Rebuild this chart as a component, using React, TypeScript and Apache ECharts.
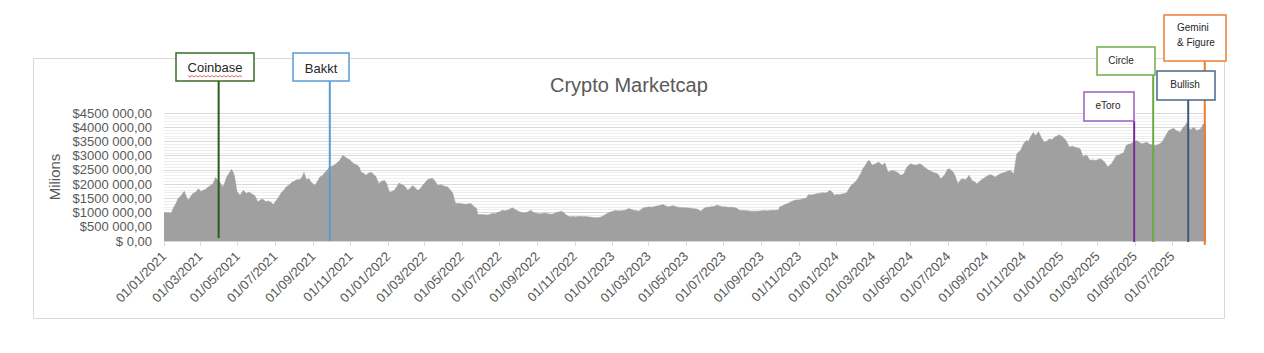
import React, { useEffect, useRef } from 'react';
import * as echarts from 'echarts';

const TITLE = 'Crypto Marketcap';
const Y_NAME = 'Milions';

// [date, market cap in millions USD]
const marketCap: [string, number][] = [
  ['2021-01-01', 1000000], ['2021-01-08', 990000], ['2021-01-13', 980000], ['2021-01-16', 1150000],
  ['2021-01-20', 1300000], ['2021-01-24', 1490000], ['2021-01-29', 1600000], ['2021-02-03', 1750000],
  ['2021-02-09', 1430000], ['2021-02-13', 1550000], ['2021-02-17', 1670000], ['2021-02-22', 1720000],
  ['2021-02-26', 1840000], ['2021-03-02', 1740000], ['2021-03-06', 1780000], ['2021-03-10', 1820000],
  ['2021-03-14', 1900000], ['2021-03-18', 1950000], ['2021-03-22', 2020000], ['2021-03-26', 2230000],
  ['2021-03-29', 2150000], ['2021-04-02', 2060000], ['2021-04-07', 1900000], ['2021-04-10', 2050000],
  ['2021-04-13', 2250000], ['2021-04-17', 2380000], ['2021-04-21', 2520000], ['2021-04-24', 2400000],
  ['2021-04-26', 2250000], ['2021-04-30', 1730000], ['2021-05-05', 1610000], ['2021-05-10', 1780000],
  ['2021-05-15', 1670000], ['2021-05-19', 1720000], ['2021-05-23', 1670000], ['2021-05-29', 1590000],
  ['2021-06-03', 1370000], ['2021-06-07', 1450000], ['2021-06-11', 1470000], ['2021-06-16', 1380000],
  ['2021-06-20', 1410000], ['2021-06-24', 1360000], ['2021-06-28', 1280000], ['2021-07-03', 1430000],
  ['2021-07-07', 1550000], ['2021-07-11', 1700000], ['2021-07-15', 1780000], ['2021-07-19', 1900000],
  ['2021-07-23', 1960000], ['2021-07-28', 2060000], ['2021-08-01', 2100000], ['2021-08-05', 2150000],
  ['2021-08-10', 2150000], ['2021-08-14', 2250000], ['2021-08-17', 2410000], ['2021-08-21', 2150000],
  ['2021-08-25', 2200000], ['2021-08-29', 2060000], ['2021-09-04', 1960000], ['2021-09-08', 2100000],
  ['2021-09-12', 2250000], ['2021-09-16', 2300000], ['2021-09-20', 2410000], ['2021-09-24', 2500000],
  ['2021-09-28', 2600000], ['2021-10-02', 2630000], ['2021-10-06', 2680000], ['2021-10-10', 2750000],
  ['2021-10-14', 2830000], ['2021-10-19', 3010000], ['2021-10-23', 2950000], ['2021-10-27', 2890000],
  ['2021-10-31', 2850000], ['2021-11-04', 2750000], ['2021-11-08', 2700000], ['2021-11-12', 2660000],
  ['2021-11-15', 2600000], ['2021-11-18', 2420000], ['2021-11-22', 2380000], ['2021-11-26', 2310000],
  ['2021-11-30', 2380000], ['2021-12-04', 2420000], ['2021-12-08', 2350000], ['2021-12-12', 2270000],
  ['2021-12-17', 2010000], ['2021-12-21', 2100000], ['2021-12-26', 2130000], ['2021-12-30', 2000000],
  ['2022-01-03', 1720000], ['2022-01-07', 1740000], ['2022-01-11', 1780000], ['2022-01-15', 1900000],
  ['2022-01-19', 2040000], ['2022-01-23', 1980000], ['2022-01-27', 1950000], ['2022-02-02', 1780000],
  ['2022-02-06', 1850000], ['2022-02-10', 1950000], ['2022-02-14', 1870000], ['2022-02-18', 1780000],
  ['2022-02-22', 1820000], ['2022-02-26', 1950000], ['2022-03-02', 2050000], ['2022-03-06', 2150000],
  ['2022-03-10', 2180000], ['2022-03-14', 2210000], ['2022-03-18', 2120000], ['2022-03-23', 1950000],
  ['2022-03-27', 1980000], ['2022-03-31', 1950000], ['2022-04-04', 1920000], ['2022-04-08', 1900000],
  ['2022-04-12', 1800000], ['2022-04-16', 1700000], ['2022-04-19', 1450000], ['2022-04-21', 1320000],
  ['2022-04-25', 1330000], ['2022-04-29', 1320000], ['2022-05-04', 1300000], ['2022-05-08', 1290000],
  ['2022-05-12', 1310000], ['2022-05-16', 1320000], ['2022-05-21', 1200000], ['2022-05-25', 1150000],
  ['2022-05-27', 930000], ['2022-06-04', 930000], ['2022-06-08', 920000], ['2022-06-12', 910000],
  ['2022-06-16', 940000], ['2022-06-20', 970000], ['2022-06-24', 960000], ['2022-06-28', 1000000],
  ['2022-07-02', 1030000], ['2022-07-06', 1080000], ['2022-07-10', 1060000], ['2022-07-14', 1080000],
  ['2022-07-18', 1120000], ['2022-07-22', 1170000], ['2022-07-25', 1130000], ['2022-07-29', 1080000],
  ['2022-08-02', 1040000], ['2022-08-06', 1000000], ['2022-08-10', 990000], ['2022-08-14', 1000000],
  ['2022-08-18', 1040000], ['2022-08-21', 1080000], ['2022-08-26', 1000000], ['2022-08-31', 970000],
  ['2022-09-04', 960000], ['2022-09-08', 960000], ['2022-09-12', 980000], ['2022-09-16', 970000],
  ['2022-09-20', 950000], ['2022-09-24', 940000], ['2022-09-28', 960000], ['2022-10-02', 1000000],
  ['2022-10-06', 1020000], ['2022-10-10', 1050000], ['2022-10-14', 1000000], ['2022-10-18', 910000],
  ['2022-10-24', 850000], ['2022-10-28', 860000], ['2022-11-02', 850000], ['2022-11-06', 860000],
  ['2022-11-10', 870000], ['2022-11-14', 860000], ['2022-11-18', 860000], ['2022-11-22', 850000],
  ['2022-11-26', 840000], ['2022-11-30', 830000], ['2022-12-04', 820000], ['2022-12-08', 825000],
  ['2022-12-12', 830000], ['2022-12-16', 870000], ['2022-12-21', 930000], ['2022-12-25', 980000],
  ['2022-12-29', 1020000], ['2023-01-02', 1050000], ['2023-01-06', 1070000], ['2023-01-10', 1060000],
  ['2023-01-14', 1060000], ['2023-01-18', 1070000], ['2023-01-22', 1080000], ['2023-01-28', 1140000],
  ['2023-02-01', 1110000], ['2023-02-05', 1080000], ['2023-02-09', 1070000], ['2023-02-13', 1050000],
  ['2023-02-17', 1110000], ['2023-02-21', 1170000], ['2023-02-25', 1180000], ['2023-03-01', 1200000],
  ['2023-03-05', 1190000], ['2023-03-09', 1200000], ['2023-03-13', 1220000], ['2023-03-17', 1240000],
  ['2023-03-21', 1260000], ['2023-03-25', 1280000], ['2023-03-29', 1230000], ['2023-04-02', 1200000],
  ['2023-04-06', 1220000], ['2023-04-10', 1240000], ['2023-04-14', 1210000], ['2023-04-18', 1190000],
  ['2023-04-22', 1180000], ['2023-04-26', 1170000], ['2023-05-01', 1170000], ['2023-05-05', 1160000],
  ['2023-05-09', 1150000], ['2023-05-12', 1140000], ['2023-05-16', 1130000], ['2023-05-20', 1120000],
  ['2023-05-25', 1050000], ['2023-05-29', 1120000], ['2023-06-02', 1180000], ['2023-06-06', 1190000],
  ['2023-06-10', 1200000], ['2023-06-15', 1210000], ['2023-06-21', 1260000], ['2023-06-25', 1230000],
  ['2023-06-30', 1200000], ['2023-07-04', 1200000], ['2023-07-08', 1190000], ['2023-07-13', 1190000],
  ['2023-07-19', 1180000], ['2023-07-23', 1150000], ['2023-07-27', 1080000], ['2023-08-04', 1070000],
  ['2023-08-10', 1060000], ['2023-08-15', 1050000], ['2023-08-20', 1050000], ['2023-08-26', 1050000],
  ['2023-09-01', 1060000], ['2023-09-06', 1070000], ['2023-09-11', 1060000], ['2023-09-16', 1080000],
  ['2023-09-21', 1080000], ['2023-09-25', 1080000], ['2023-09-29', 1100000], ['2023-10-01', 1200000],
  ['2023-10-05', 1230000], ['2023-10-09', 1280000], ['2023-10-13', 1310000], ['2023-10-17', 1350000],
  ['2023-10-21', 1400000], ['2023-10-25', 1430000], ['2023-10-29', 1440000], ['2023-11-02', 1450000],
  ['2023-11-06', 1470000], ['2023-11-10', 1490000], ['2023-11-14', 1520000], ['2023-11-16', 1630000],
  ['2023-11-20', 1620000], ['2023-11-24', 1630000], ['2023-11-28', 1650000], ['2023-12-02', 1670000],
  ['2023-12-06', 1680000], ['2023-12-10', 1700000], ['2023-12-15', 1690000], ['2023-12-18', 1720000],
  ['2023-12-21', 1780000], ['2023-12-25', 1720000], ['2023-12-29', 1610000], ['2024-01-02', 1640000],
  ['2024-01-06', 1630000], ['2024-01-10', 1650000], ['2024-01-14', 1670000], ['2024-01-18', 1700000],
  ['2024-01-20', 1780000], ['2024-01-25', 1950000], ['2024-01-29', 2020000], ['2024-02-02', 2100000],
  ['2024-02-05', 2200000], ['2024-02-08', 2310000], ['2024-02-11', 2420000], ['2024-02-13', 2540000],
  ['2024-02-17', 2650000], ['2024-02-21', 2800000], ['2024-02-24', 2830000], ['2024-02-28', 2660000],
  ['2024-03-05', 2720000], ['2024-03-10', 2770000], ['2024-03-16', 2660000], ['2024-03-20', 2750000],
  ['2024-03-25', 2420000], ['2024-04-01', 2480000], ['2024-04-05', 2450000], ['2024-04-09', 2420000],
  ['2024-04-15', 2310000], ['2024-04-20', 2360000], ['2024-04-25', 2600000], ['2024-05-01', 2720000],
  ['2024-05-05', 2680000], ['2024-05-09', 2660000], ['2024-05-13', 2690000], ['2024-05-16', 2720000],
  ['2024-05-20', 2660000], ['2024-05-23', 2600000], ['2024-05-27', 2540000], ['2024-05-31', 2480000],
  ['2024-06-04', 2440000], ['2024-06-08', 2400000], ['2024-06-14', 2360000], ['2024-06-19', 2190000],
  ['2024-06-25', 2310000], ['2024-06-30', 2520000], ['2024-07-03', 2540000], ['2024-07-06', 2480000],
  ['2024-07-09', 2430000], ['2024-07-12', 2310000], ['2024-07-17', 2010000], ['2024-07-20', 2120000],
  ['2024-07-24', 2190000], ['2024-07-30', 2150000], ['2024-08-04', 2310000], ['2024-08-09', 2130000],
  ['2024-08-13', 2080000], ['2024-08-17', 2010000], ['2024-08-23', 2130000], ['2024-08-27', 2190000],
  ['2024-08-31', 2250000], ['2024-09-04', 2300000], ['2024-09-08', 2340000], ['2024-09-12', 2290000],
  ['2024-09-16', 2250000], ['2024-09-20', 2310000], ['2024-09-24', 2360000], ['2024-09-28', 2390000],
  ['2024-10-02', 2420000], ['2024-10-06', 2450000], ['2024-10-10', 2480000], ['2024-10-16', 2360000],
  ['2024-10-19', 2800000], ['2024-10-21', 3070000], ['2024-10-27', 3190000], ['2024-11-01', 3420000],
  ['2024-11-06', 3540000], ['2024-11-09', 3500000], ['2024-11-12', 3660000], ['2024-11-17', 3820000],
  ['2024-11-20', 3700000], ['2024-11-23', 3770000], ['2024-11-25', 3850000], ['2024-12-01', 3590000],
  ['2024-12-05', 3470000], ['2024-12-09', 3520000], ['2024-12-13', 3590000], ['2024-12-17', 3560000],
  ['2024-12-21', 3650000], ['2024-12-25', 3680000], ['2024-12-28', 3730000], ['2025-01-01', 3700000],
  ['2025-01-04', 3650000], ['2025-01-09', 3530000], ['2025-01-12', 3400000], ['2025-01-15', 3300000],
  ['2025-01-19', 3340000], ['2025-01-23', 3300000], ['2025-01-27', 3280000], ['2025-02-01', 3240000],
  ['2025-02-06', 2950000], ['2025-02-09', 3020000], ['2025-02-12', 3010000], ['2025-02-17', 2830000],
  ['2025-02-21', 2860000], ['2025-02-25', 2830000], ['2025-03-01', 2850000], ['2025-03-05', 2890000],
  ['2025-03-09', 2850000], ['2025-03-13', 2770000], ['2025-03-18', 2600000], ['2025-03-24', 2720000],
  ['2025-03-28', 2850000], ['2025-04-01', 3010000], ['2025-04-05', 3020000], ['2025-04-09', 3070000],
  ['2025-04-13', 3100000], ['2025-04-17', 3360000], ['2025-04-21', 3400000], ['2025-04-25', 3420000],
  ['2025-04-29', 3480000], ['2025-05-04', 3530000], ['2025-05-08', 3470000], ['2025-05-12', 3420000],
  ['2025-05-16', 3440000], ['2025-05-20', 3470000], ['2025-05-24', 3420000], ['2025-05-28', 3380000],
  ['2025-06-03', 3360000], ['2025-06-07', 3380000], ['2025-06-11', 3420000], ['2025-06-15', 3500000],
  ['2025-06-19', 3650000], ['2025-06-22', 3760000], ['2025-06-25', 3880000], ['2025-06-29', 3920000],
  ['2025-07-03', 3960000], ['2025-07-08', 3880000], ['2025-07-14', 3820000], ['2025-07-19', 4000000],
  ['2025-07-22', 4050000], ['2025-07-25', 4170000], ['2025-07-30', 3900000], ['2025-08-05', 4000000],
  ['2025-08-10', 3880000], ['2025-08-16', 3940000], ['2025-08-21', 4120000], ['2025-08-25', 4100000],
];

const xTickLabels = [
  '01/01/2021', '01/03/2021', '01/05/2021', '01/07/2021', '01/09/2021', '01/11/2021',
  '01/01/2022', '01/03/2022', '01/05/2022', '01/07/2022', '01/09/2022', '01/11/2022',
  '01/01/2023', '01/03/2023', '01/05/2023', '01/07/2023', '01/09/2023', '01/11/2023',
  '01/01/2024', '01/03/2024', '01/05/2024', '01/07/2024', '01/09/2024', '01/11/2024',
  '01/01/2025', '01/03/2025', '01/05/2025', '01/07/2025',
];

const yTickLabels = [
  '$ 0,00', '$500 000,00', '$1000 000,00', '$1500 000,00', '$2000 000,00',
  '$2500 000,00', '$3000 000,00', '$3500 000,00', '$4000 000,00', '$4500 000,00',
];

const annotationNames = ['Coinbase', 'Bakkt', 'eToro', 'Circle', 'Bullish', 'Gemini\n& Figure'];
const annotationDates = ['2021-03-31', '2021-09-28', '2025-04-30', '2025-05-31', '2025-07-27', '2025-08-23'];

// layout / style of the callout boxes (page pixels)
const annotationLayout = [
  { x: 176, y: 53, w: 78, h: 28, border: '#3a6b2a', line: '#2f5a1d', fontSize: 13, tx: 215, ty: 67, align: 'center', bottom: 238 },
  { x: 293, y: 53, w: 56, h: 28, border: '#5b9bd5', line: '#5b9bd5', fontSize: 13, tx: 321, ty: 68, align: 'center', bottom: 241 },
  { x: 1084, y: 92, w: 50, h: 29, border: '#a05cc0', line: '#7a2a9a', fontSize: 10, tx: 1108, ty: 105, align: 'center', bottom: 242 },
  { x: 1097, y: 47, w: 58, h: 28, border: '#70ad47', line: '#6aab3c', fontSize: 10, tx: 1121, ty: 60, align: 'center', bottom: 242 },
  { x: 1157, y: 71, w: 58, h: 29, border: '#4a6688', line: '#3c5c7e', fontSize: 10, tx: 1185, ty: 84, align: 'center', bottom: 242 },
  { x: 1164, y: 15, w: 62, h: 46, border: '#ed7d31', line: '#ed7d31', fontSize: 10, tx: 1177, ty: 35, align: 'left', bottom: 245 },
];

const FONT = '"Liberation Sans", Arial, sans-serif';

function isoTs(s: string): number {
  const [y, m, d] = s.split('-').map(Number);
  return Date.UTC(y, m - 1, d);
}
function dmyTs(s: string): number {
  const [d, m, y] = s.split('/').map(Number);
  return Date.UTC(y, m - 1, d);
}
function fmtDMY(v: number): string {
  const dt = new Date(v);
  const p = (n: number) => (n < 10 ? '0' + n : '' + n);
  return p(dt.getUTCDate()) + '/' + p(dt.getUTCMonth() + 1) + '/' + dt.getUTCFullYear();
}

export default function App() {
  const ref = useRef<HTMLDivElement>(null);
  useEffect(() => {
    document.body.style.margin = '0';
    const chart = echarts.init(ref.current!, null, { renderer: 'svg' });
    const tickTs = xTickLabels.map(dmyTs);
    const minTs = isoTs(marketCap[0][0]);
    const maxTs = isoTs(marketCap[marketCap.length - 1][0]);
    chart.setOption({
      animation: false,
      backgroundColor: '#ffffff',
      title: {
        text: TITLE,
        left: 545,
        top: 70,
        textStyle: { fontSize: 20, fontWeight: 'normal', color: '#595959', fontFamily: FONT },
      },
      grid: { left: 164, right: 58, top: 113, bottom: 112, containLabel: false },
      xAxis: {
        type: 'value',
        min: minTs,
        max: maxTs,
        axisLine: { show: true, lineStyle: { color: '#d9d9d9', width: 1 } },
        axisTick: { show: true, customValues: tickTs, length: 5, lineStyle: { color: '#d9d9d9' } },
        axisLabel: {
          customValues: tickTs,
          rotate: 45,
          margin: 13,
          fontSize: 13,
          color: '#595959',
          fontFamily: FONT,
          formatter: (v: number) => fmtDMY(v),
        },
        splitLine: { show: false },
      },
      yAxis: {
        type: 'value',
        min: 0,
        max: 4500000,
        interval: 500000,
        name: Y_NAME,
        nameLocation: 'middle',
        nameGap: 94,
        nameTextStyle: { fontSize: 15, color: '#595959', fontFamily: FONT },
        axisLine: { show: false },
        axisTick: { show: false },
        axisLabel: {
          fontSize: 13,
          color: '#595959',
          margin: 12,
          fontFamily: FONT,
          formatter: (v: number) => yTickLabels[Math.round(v / 500000)],
        },
        splitLine: { show: true, lineStyle: { color: '#d9d9d9', width: 1 } },
        minorTick: { show: false, splitNumber: 5 },
        minorSplitLine: { show: true, lineStyle: { color: '#eeeeee', width: 1 } },
      },
      series: [
        {
          type: 'line',
          data: marketCap.map(([d, v]) => [isoTs(d), v]),
          showSymbol: false,
          symbol: 'none',
          silent: true,
          lineStyle: { width: 0.5, color: '#a0a0a0' },
          areaStyle: { color: '#a0a0a0', opacity: 1 },
        },
      ],
    });

    const graphics: any[] = [
      {
        type: 'rect',
        shape: { x: 33.5, y: 58.5, width: 1191, height: 260 },
        style: { fill: 'none', stroke: '#d9d9d9', lineWidth: 1 },
        z: 1,
      },
    ];
    annotationNames.forEach((name, i) => {
      const L = annotationLayout[i];
      const x = chart.convertToPixel({ xAxisIndex: 0 }, isoTs(annotationDates[i])) as number;
      graphics.push({
        type: 'line',
        shape: { x1: x, y1: L.y + L.h, x2: x, y2: L.bottom },
        style: { stroke: L.line, lineWidth: 2 },
        z: 10,
      });
      graphics.push({
        type: 'rect',
        shape: { x: L.x, y: L.y, width: L.w, height: L.h },
        style: { fill: '#ffffff', stroke: L.border, lineWidth: 1.5 },
        z: 11,
      });
      graphics.push({
        type: 'text',
        x: L.tx,
        y: L.ty,
        style: {
          text: name,
          fontSize: L.fontSize,
          fontFamily: FONT,
          fill: '#262626',
          align: L.align,
          verticalAlign: 'middle',
          lineHeight: 15,
        },
        z: 12,
      });
    });
    // spell-check squiggle under "Coinbase"
    const squiggle: number[][] = [];
    for (let px = 188; px <= 243; px += 2) {
      squiggle.push([px, ((px - 188) / 2) % 2 === 0 ? 75.5 : 77]);
    }
    graphics.push({
      type: 'polyline',
      shape: { points: squiggle },
      style: { stroke: '#e0403a', lineWidth: 0.8, fill: 'none' },
      z: 13,
    });
    chart.setOption({ graphic: graphics });

    return () => chart.dispose();
  }, []);
  return <div ref={ref} style={{ width: 1264, height: 353 }} />;
}
